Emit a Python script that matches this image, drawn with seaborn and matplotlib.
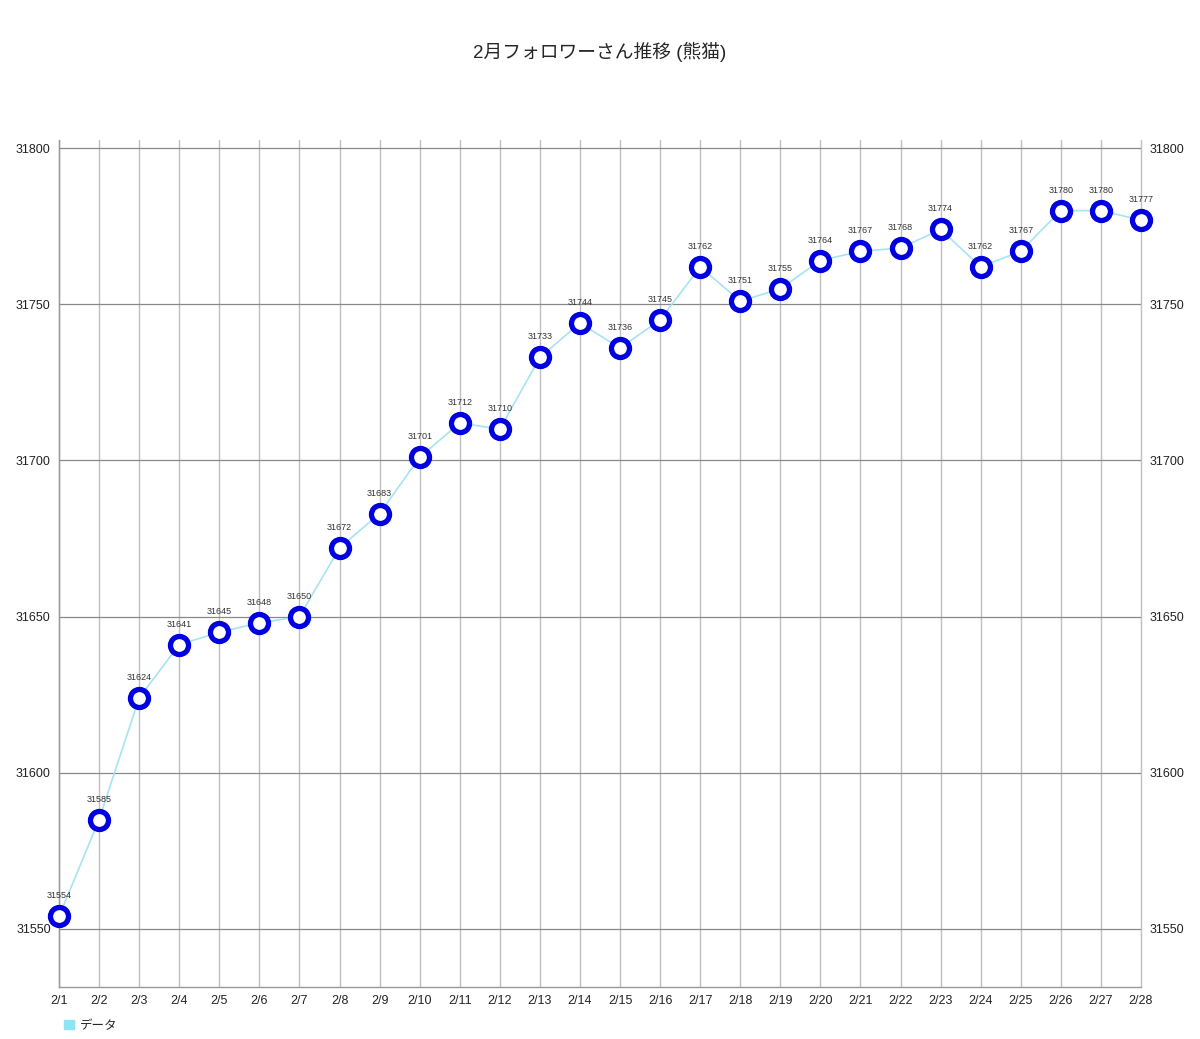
import matplotlib
matplotlib.use('Agg')
import matplotlib.pyplot as plt
from matplotlib.patches import Patch
import seaborn as sns
import pandas as pd

days = [f'2/{d}' for d in range(1, 29)]
followers = [31554, 31585, 31624, 31641, 31645, 31648, 31650, 31672, 31683, 31701,
             31712, 31710, 31733, 31744, 31736, 31745, 31762, 31751, 31755, 31764,
             31767, 31768, 31774, 31762, 31767, 31780, 31780, 31777]
y_ticks = [31550, 31600, 31650, 31700, 31750, 31800]

sns.set_style('white')
plt.rcParams['font.family'] = ['Liberation Sans', 'Noto Sans CJK JP', 'DejaVu Sans']

df = pd.DataFrame({'day': days, 'followers': followers})
df['x'] = range(len(df))

fig = plt.figure(figsize=(12, 10.39), dpi=100)
ax = fig.add_axes([0.0492, 0.0501, 0.9016, 0.8151])

# line + ring markers
sns.lineplot(data=df, x='x', y='followers', ax=ax, color='#a6e3f3', linewidth=1.2,
             marker='o', markersize=13, markerfacecolor='white',
             markeredgecolor='#0000e0', markeredgewidth=3.8, zorder=3, clip_on=False)

for xi, v in zip(df['x'], df['followers']):
    ax.annotate(str(v), (xi, v), xytext=(0, 11.5), textcoords='offset points',
                ha='center', va='bottom', fontsize=6.5, color='#333333')

ax.set_xlim(0, len(days) - 1)
ax.set_ylim(31531.4, 31802.6)
ax.set_xticks(df['x'])
ax.set_xticklabels(days)
ax.set_yticks(y_ticks)
ax.tick_params(axis='both', labelsize=9, length=0, colors='#222222', pad=6)
ax.tick_params(axis='y', labelright=True, right=False)

for xi in df['x']:
    ax.axvline(xi, color='#bfbfbf', linewidth=1, zorder=1, clip_on=False)
for yv in y_ticks:
    ax.axhline(yv, color='#888888', linewidth=0.9, zorder=1)

for side in ['top', 'right']:
    ax.spines[side].set_visible(False)
for side in ['left', 'bottom']:
    ax.spines[side].set_color('#999999')
    ax.spines[side].set_linewidth(1)

ax.set_xlabel('')
ax.set_ylabel('')

fig.suptitle('2月フォロワーさん推移 (熊猫)', y=0.96, fontsize=13.5)

fig.legend(handles=[Patch(color='#8ee3f5', label='データ')], loc='lower left',
           bbox_to_anchor=(0.044, -0.004), frameon=False, fontsize=9,
           handlelength=0.8, handleheight=0.8, handletextpad=0.5)

fig.savefig('out.png', dpi=100)
